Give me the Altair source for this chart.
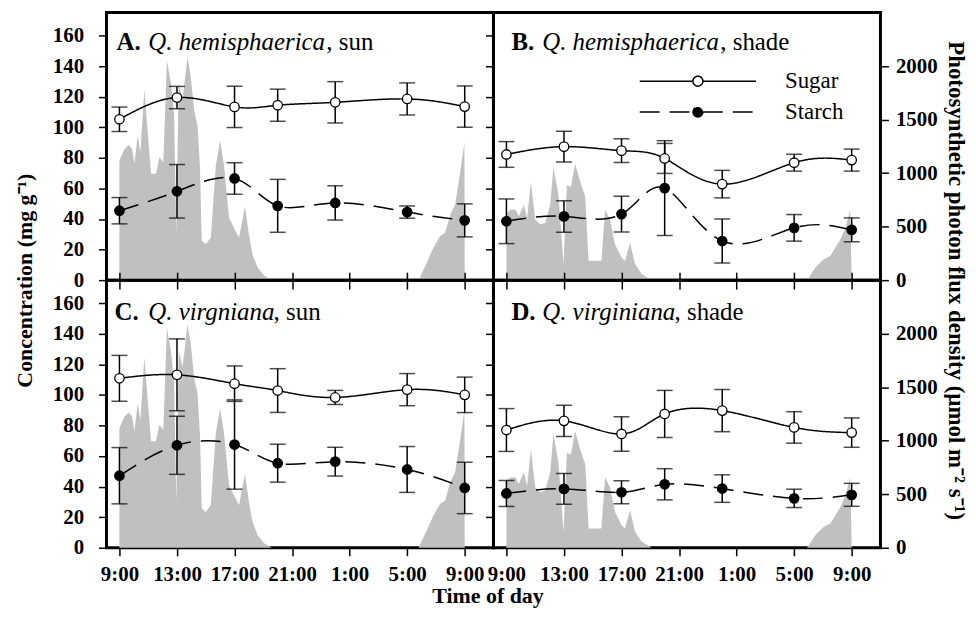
import altair as alt
import pandas as pd

# ---------------- data ----------------
hours = [9, 13, 17, 20, 24, 29, 33]
series_names = ["Sugar", "Starch"]

a_sugar = [105.2, 119.4, 113.3, 114.4, 116.3, 118.5, 113.5]
a_sugar_se = [8.0, 7.3, 13.5, 10.5, 13.5, 10.5, 13.5]
a_starch = [45.4, 58.1, 66.5, 48.6, 50.5, 44.5, 39.1]
a_starch_se = [8.6, 17.5, 10.3, 17.3, 11.2, 4.0, 10.8]

b_sugar = [82.2, 87.3, 84.7, 79.6, 62.8, 76.8, 78.5]
b_sugar_se = [8.4, 10.0, 7.7, 9.8, 9.0, 5.5, 7.2]
b_starch = [38.5, 41.7, 43.2, 60.2, 25.6, 34.2, 32.9]
b_starch_se = [14.6, 10.3, 11.7, 31.0, 14.4, 8.7, 7.8]

c_sugar = [110.8, 113.1, 107.3, 102.8, 98.3, 103.4, 100.0]
c_sugar_se = [15.0, 23.5, 11.6, 14.3, 4.6, 10.5, 11.6]
c_starch = [47.1, 67.0, 67.5, 55.3, 56.3, 51.2, 39.1]
c_starch_se = [18.4, 19.0, 29.2, 12.4, 9.4, 15.0, 16.8]

d_sugar = [77.0, 83.0, 74.4, 87.5, 89.7, 78.7, 75.3]
d_sugar_se = [14.0, 10.2, 11.3, 15.4, 13.8, 10.3, 9.6]
d_starch = [35.5, 38.5, 36.3, 41.5, 38.7, 32.3, 34.6]
d_starch_se = [8.5, 10.0, 7.5, 10.2, 9.0, 6.0, 7.5]

sun_hours = [9.0, 9.0, 9.35, 9.65, 9.88, 10.04, 10.27, 10.46, 10.73, 11.2,
             11.54, 11.77, 12.05, 12.3, 12.58, 12.8, 12.95, 13.12, 13.39, 13.73,
             13.96, 14.2, 14.43, 14.6, 14.72, 15.0, 15.35, 15.7, 16.0, 16.27,
             16.62, 16.97, 17.31, 17.73, 18.0, 18.25, 18.6, 19.06, 19.6, 29.79,
             30.37, 30.83, 31.3, 31.64, 31.99, 32.33, 32.68, 32.98, 33.0]
sun_ppfd = [0, 1118, 1226, 1263, 1226, 1088, 1349, 1195, 1779, 995,
            995, 1149, 1103, 2055, 1840, 1550, 430, 1840, 1687, 2086,
            1901, 1579, 1441, 1050, 370, 335, 396, 1072, 1302, 1072,
            581, 488, 396, 688, 427, 243, 120, 43, 0, 0,
            166, 304, 412, 442, 611, 703, 1000, 1287, 0]

shade_hours = [9.0, 9.0, 9.28, 9.63, 9.86, 10.21, 10.44, 10.7, 11.0, 11.35,
               11.7, 12.04, 12.27, 12.62, 12.97, 13.2, 13.48, 13.78, 14.13, 14.48,
               14.71, 15.6, 15.86, 16.2, 16.55, 17.0, 17.24, 17.59, 17.94, 18.4,
               19.1, 29.9, 30.48, 31.06, 31.52, 31.87, 32.22, 32.56, 32.9, 33.0]
shade_ppfd = [0, 627, 657, 657, 596, 703, 581, 919, 565, 519,
              534, 703, 1057, 796, 150, 888, 870, 1088, 919, 780,
              181, 181, 657, 565, 335, 212, 181, 350, 150, 58,
              0, 0, 120, 196, 227, 304, 381, 488, 657, 0]

x_ticks = [9, 13, 17, 21, 25, 29, 33]
conc_ticks = [0, 20, 40, 60, 80, 100, 120, 140, 160]
ppfd_ticks = [0, 500, 1000, 1500, 2000]

# ---------------- styling ----------------
FONT = "Liberation Serif"
W, H = 389, 269
XDOM = [8.1, 35]
CONC_DOM = [0, 175]
PPFD_DOM = [0, 2500]
R = 0.0855
LEGEND_PATH = (f"M-1,0L-{R},0M{R},0L1,0M{R},0A{R},{R},0,1,1,-{R},0A{R},{R},0,1,1,{R},0Z")


def conc_frame(sugar, sugar_se, starch, starch_se):
    rows = []
    for name, means, ses in (("Sugar", sugar, sugar_se), ("Starch", starch, starch_se)):
        for h, m, s in zip(hours, means, ses):
            rows.append({"hour": h, "series": name, "mean": m, "lo": m - s, "hi": m + s})
    return pd.DataFrame(rows)


def panel(df, ph, pv, label, offsets, baseline, top, right):
    ppfd_df = pd.DataFrame({"hour": ph, "ppfd": pv})
    xscale = alt.Scale(domain=XDOM, nice=False, zero=False)
    label_expr = "(datum.value % 24) + ':00'"

    if top:
        xaxis_area = alt.Axis(values=x_ticks, labels=False, tickSize=9, title=None)
        xaxis_conc = xaxis_area
    else:
        xaxis_area = alt.Axis(values=x_ticks, labelExpr=label_expr, tickSize=8,
                              labelPadding=8, labelFlush=False, labelOverlap=False,
                              title=None if right else "Time of day",
                              titleX=383, titlePadding=1)
        xaxis_conc = alt.Axis(values=x_ticks, labels=False, tickSize=8, title=None,
                              orient="top")

    if right:
        yaxis_area = alt.Axis(orient="right", values=ppfd_ticks, format="d", tickSize=8,
                              labelPadding=7,
                              title=("Photosynthetic photon flux density (µmol m⁻² s⁻¹)" if top else None),
                              titleY=H, titlePadding=6, titleFontSize=23)
        yaxis_conc = alt.Axis(orient="left", values=conc_ticks, labels=False, tickSize=8, title=None)
    else:
        yaxis_area = None
        yaxis_conc = alt.Axis(orient="left", values=conc_ticks, tickSize=8, labelPadding=15,
                              title=("Concentration (mg g⁻¹)" if top else None),
                              titleY=H, titlePadding=16)

    area = alt.Chart(ppfd_df).mark_area(color="#c0c0c0", interpolate="linear").encode(
        x=alt.X("hour:Q", scale=xscale, axis=xaxis_area),
        y=alt.Y("ppfd:Q", scale=alt.Scale(domain=PPFD_DOM, nice=False), axis=yaxis_area),
    )

    show_legend = right and top
    if show_legend:
        leg = alt.Legend(title=None, orient="none", legendX=146, legendY=57,
                         symbolType=LEGEND_PATH, symbolSize=117 * 117, symbolStrokeWidth=1.5,
                         symbolStrokeColor="black", labelFont=FONT, labelFontSize=23,
                         labelFontWeight="normal", labelColor="black", labelOffset=28,
                         clipHeight=24, rowPadding=7, padding=0)
    else:
        leg = None

    base = alt.Chart(df)
    x_enc = alt.X("hour:Q", scale=xscale, axis=xaxis_conc)
    yscale = alt.Scale(domain=CONC_DOM, nice=False)

    rules = base.mark_rule(color="black", strokeWidth=1.5).encode(
        x=x_enc,
        y=alt.Y("lo:Q", scale=yscale, axis=yaxis_conc),
        y2="hi:Q",
    )
    cap_lo = base.mark_tick(orient="horizontal", size=16, thickness=1.5, color="black").encode(
        x=x_enc, y=alt.Y("lo:Q", scale=yscale, axis=yaxis_conc))
    cap_hi = base.mark_tick(orient="horizontal", size=16, thickness=1.5, color="black").encode(
        x=x_enc, y=alt.Y("hi:Q", scale=yscale, axis=yaxis_conc))
    lines = base.mark_line(interpolate="natural", color="black", strokeWidth=1.5).encode(
        x=x_enc,
        y=alt.Y("mean:Q", scale=yscale, axis=yaxis_conc),
        strokeDash=alt.StrokeDash("series:N",
                                  scale=alt.Scale(domain=series_names, range=[[1, 0], [20, 10]]),
                                  legend=leg),
        detail="series:N",
    )
    points = base.mark_point(filled=True, size=90, stroke="black", strokeWidth=1.3, opacity=1).encode(
        x=x_enc,
        y=alt.Y("mean:Q", scale=yscale, axis=yaxis_conc),
        fill=alt.Fill("series:N", scale=alt.Scale(domain=series_names, range=["white", "black"]),
                      legend=leg),
    )

    conc = alt.layer(rules, cap_lo, cap_hi, lines, points)

    one = pd.DataFrame({"k": [0]})
    letter, species, tail = label
    ox1, ox2, ox3 = offsets
    t1 = alt.Chart(one).mark_text(text=letter, align="left", baseline="alphabetic", font=FONT,
                                  fontSize=25, fontWeight="bold", color="black").encode(
        x=alt.value(ox1), y=alt.value(baseline))
    t2 = alt.Chart(one).mark_text(text=species, align="left", baseline="alphabetic", font=FONT,
                                  fontSize=25, fontStyle="italic", color="black").encode(
        x=alt.value(ox2), y=alt.value(baseline))
    t3 = alt.Chart(one).mark_text(text=tail, align="left", baseline="alphabetic", font=FONT,
                                  fontSize=25, color="black").encode(
        x=alt.value(ox3), y=alt.value(baseline))

    ch = alt.layer(area, conc, t1, t2, t3).resolve_scale(y="independent")
    if not top:
        ch = ch.resolve_axis(x="independent")
    return ch.properties(width=W, height=H)


pA = panel(conc_frame(a_sugar, a_sugar_se, a_starch, a_starch_se), sun_hours, sun_ppfd,
           ("A.", "Q. hemisphaerica", ", sun"), (10, 42, 221), 38, top=True, right=False)
pB = panel(conc_frame(b_sugar, b_sugar_se, b_starch, b_starch_se), shade_hours, shade_ppfd,
           ("B.", "Q. hemisphaerica", ", shade"), (18, 49, 228), 38, top=True, right=True)
pC = panel(conc_frame(c_sugar, c_sugar_se, c_starch, c_starch_se), sun_hours, sun_ppfd,
           ("C.", "Q. virgniana", ", sun"), (8, 42, 168), 40, top=False, right=False)
pD = panel(conc_frame(d_sugar, d_sugar_se, d_starch, d_starch_se), shade_hours, shade_ppfd,
           ("D.", "Q. virginiana", ", shade"), (18, 49, 182), 40, top=False, right=True)

chart = alt.concat(pA, pB, pC, pD, columns=2, spacing=0, bounds="flush").resolve_scale(
    fill="independent", strokeDash="independent"
).properties(
    padding={"left": 4, "top": 1, "right": 0, "bottom": 0}
).configure_view(
    stroke="black", strokeWidth=3
).configure_axis(
    labelFont=FONT, labelFontSize=21, labelFontWeight="bold", labelColor="black",
    titleFont=FONT, titleFontSize=22, titleFontWeight="bold", titleColor="black",
    tickColor="black", tickWidth=1.5, domain=False, grid=False,
)

chart.save("out.html", embed_options={"renderer": "svg", "actions": False})
